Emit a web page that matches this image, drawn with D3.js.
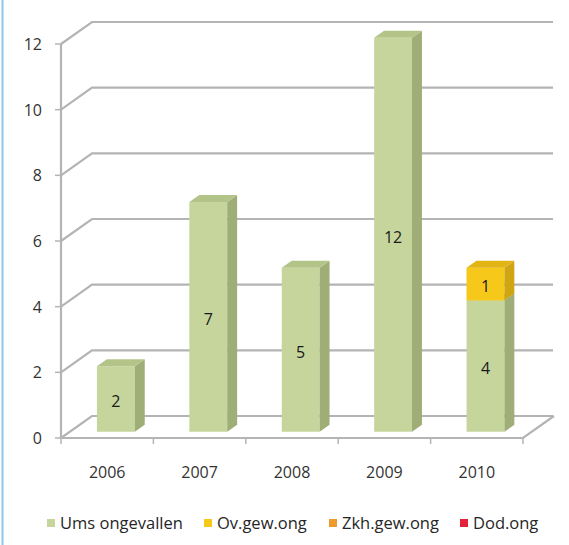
<!DOCTYPE html>
<html><head><meta charset="utf-8">
<script src="https://cdn.jsdelivr.net/npm/d3@7"></script>
<style>
html,body{margin:0;padding:0;background:#fff;}
svg{display:block;}
</style></head>
<body>
<svg id="chart" width="569" height="545"></svg>
<script>
const categories = ["2006","2007","2008","2009","2010"];
const seriesNames = ["Ums ongevallen","Ov.gew.ong","Zkh.gew.ong","Dod.ong"];
const umsOngevallen = [2,7,5,12,4];
const ovGewOng = [0,0,0,0,1];
const zkhGewOng = [0,0,0,0,0];
const dodOng = [0,0,0,0,0];
const yTicks = [0,2,4,6,8,10,12];
const seriesColors = ["#c5d59c","#f6c81a","#ee9a2e","#e2223a"];
const sideColors = ["#9fae76","#cfa514","#c67d1e","#b81a2e"];
const topColors = ["#b3c488","#e2b414","#dc8a24","#cc1e34"];

const rows = categories.map((c,i)=>({cat:c, "Ums ongevallen":umsOngevallen[i], "Ov.gew.ong":ovGewOng[i], "Zkh.gew.ong":zkhGewOng[i], "Dod.ong":dodOng[i]}));
const stacked = d3.stack().keys(seriesNames)(rows);

const svg = d3.select("#chart");
const FONT = "'Open Sans', sans-serif";
const DX = 31, DY = -22;      // full depth projection of the walls
const D0 = 0.28, D1 = 0.60;   // bar depth range

const x = d3.scaleBand().domain(categories).range([61,523]).paddingInner(0.59).paddingOuter(0.295);
const xFull = d3.scaleBand().domain(categories).range([61,523]);
const y = d3.scaleLinear().domain([0,12]).range([438,44]);
const P = (px, v, d) => [px + DX*d, y(v) + DY*d];
const poly = pts => "M" + pts.map(p=>p.join(",")).join("L") + "Z";

// left border
svg.append("line").attr("x1",2.5).attr("x2",2.5).attr("y1",0).attr("y2",545)
  .attr("stroke","#8ec8ec").attr("stroke-width",2);

const grid = svg.append("g").attr("fill","none").attr("stroke","#b4b4b4").attr("stroke-width",2.2);
yTicks.forEach(t=>{
  const a = P(61,t,0), b = P(61,t,1), c = [553, y(t)+DY];
  grid.append("path").attr("d","M"+a+"L"+b+"L"+c);
});
const fl = [P(61,0,0), P(523,0,0), P(523,0,1)];
grid.append("path").attr("d","M"+fl[0]+"L"+fl[1]+"L"+fl[2]);
grid.append("line").attr("x1",61).attr("x2",61).attr("y1",y(12)).attr("y2",y(0));
yTicks.forEach(t=>{
  grid.append("line").attr("x1",55).attr("x2",61).attr("y1",y(t)).attr("y2",y(t)).attr("stroke-width",1.5);
});
categories.forEach((c,i)=>{
  const bx = xFull(c);
  grid.append("line").attr("x1",bx).attr("x2",bx).attr("y1",y(0)).attr("y2",y(0)+6).attr("stroke-width",1.5);
});
grid.append("line").attr("x1",523).attr("x2",523).attr("y1",y(0)).attr("y2",y(0)+6).attr("stroke-width",1.5);

svg.append("g").selectAll("text").data(yTicks).join("text")
  .attr("x",42).attr("y",t=>y(t)+6).attr("text-anchor","end")
  .attr("font-family",FONT).attr("font-size",16).attr("fill","#333").text(t=>t);
svg.append("g").selectAll("text").data(categories).join("text")
  .attr("x",c=>xFull(c)+xFull.bandwidth()/2).attr("y",478).attr("text-anchor","middle")
  .attr("font-family",FONT).attr("font-size",16).attr("fill","#333").text(c=>c);

const bars = svg.append("g");
categories.forEach((c,i)=>{
  const x0 = x(c), x1 = x(c)+x.bandwidth();
  stacked.forEach((s,si)=>{
    const v0 = s[i][0], v1 = s[i][1];
    if (v1 - v0 <= 0) return;
    bars.append("path").attr("d",poly([P(x0,v0,D0),P(x1,v0,D0),P(x1,v1,D0),P(x0,v1,D0)])).attr("fill",seriesColors[si]);
    bars.append("path").attr("d",poly([P(x1,v0,D0),P(x1,v0,D1),P(x1,v1,D1),P(x1,v1,D0)])).attr("fill",sideColors[si]);
    bars.append("path").attr("d",poly([P(x0,v1,D0),P(x1,v1,D0),P(x1,v1,D1),P(x0,v1,D1)])).attr("fill",topColors[si]);
    const mid = P((x0+x1)/2,(v0+v1)/2,D0);
    bars.append("text").attr("x",mid[0]).attr("y",mid[1]+8).attr("text-anchor","middle")
      .attr("font-family",FONT).attr("font-size",16).attr("fill","#1a1a1a").text(v1-v0);
  });
});

const legendX = [47,204,329,460];
const lg = svg.append("g");
seriesNames.forEach((n,i)=>{
  lg.append("rect").attr("x",legendX[i]).attr("y",519).attr("width",8).attr("height",8).attr("fill",seriesColors[i]);
  lg.append("text").attr("x",legendX[i]+13).attr("y",529).attr("font-family",FONT).attr("font-size",16.5)
    .attr("fill","#262626").text(n);
});
</script>
</body></html>
